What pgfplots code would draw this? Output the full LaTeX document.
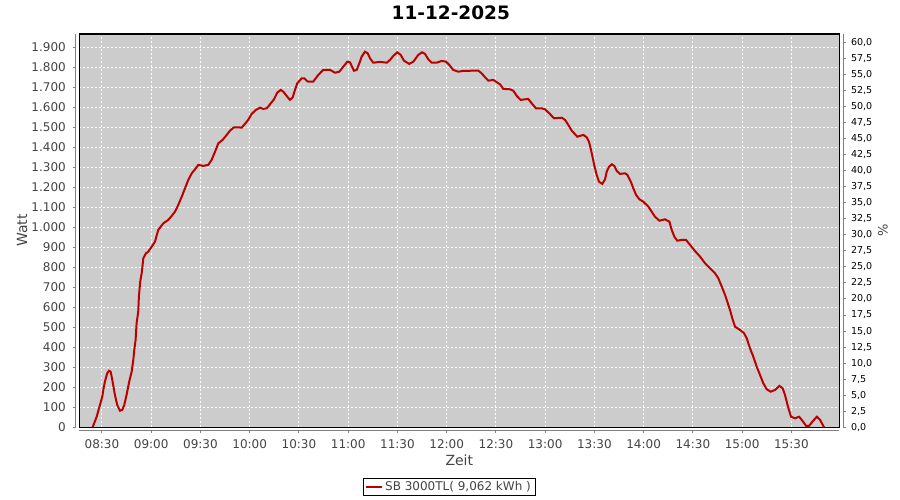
\documentclass[border=0pt]{standalone}
\usepackage{fontspec}
\setmainfont{DejaVu Sans}
\usepackage{pgfplots}
\usepackage{pgfplotstable}
\pgfplotsset{compat=1.18}
\definecolor{plotbg}{RGB}{204,204,204}
\definecolor{linered}{RGB}{187,0,0}
\definecolor{axgray}{RGB}{128,128,128}
\definecolor{lblgray}{RGB}{68,68,68}
\pgfplotstableread{
t w
504.3 0
506.8 53
508.8 112
510.2 153
510.8 187
511.8 228
513.2 270
514.3 283
515.3 278
516.5 228
517.9 162
519.3 112
521.0 83
522.4 87
523.6 112
525.0 162
526.6 228
528.1 278
529.1 337
529.7 387
530.5 437
531.1 520
532.1 578
532.5 653
533.3 728
534.2 770
535.2 845
536.8 870
538.2 878
539.9 898
542.3 928
544.3 987
547.4 1020
550.4 1037
552.5 1057
554.5 1078
556.5 1112
558.6 1153
560.6 1195
562.6 1237
564.7 1270
566.7 1290
568.7 1312
571.7 1307
574.8 1312
576.8 1337
578.9 1378
580.9 1420
583.5 1437
586.0 1462
588.0 1483
590.4 1500
593.0 1500
595.1 1498
597.1 1517
599.1 1537
601.2 1567
603.8 1587
606.3 1598
608.3 1592
610.4 1595
612.4 1615
614.8 1640
616.8 1673
618.9 1687
620.5 1678
622.5 1657
624.5 1637
626.2 1650
627.6 1687
629.0 1720
631.7 1745
633.3 1745
634.7 1733
635.7 1728
638.7 1728
641.8 1762
644.8 1787
648.9 1787
652.0 1773
654.6 1778
657.0 1803
659.5 1828
661.1 1825
663.5 1783
665.2 1787
666.8 1820
668.2 1853
670.2 1878
671.9 1870
673.3 1845
675.3 1823
679.4 1827
683.5 1823
685.5 1837
687.5 1857
689.9 1875
692.0 1862
694.0 1833
697.2 1817
699.7 1828
702.7 1862
705.0 1875
706.8 1867
708.8 1840
710.9 1823
713.9 1823
717.0 1832
719.6 1828
721.6 1812
724.0 1787
727.1 1778
730.1 1782
736.2 1783
739.3 1783
741.3 1770
743.4 1750
745.4 1733
748.4 1737
751.5 1720
752.5 1715
754.5 1692
758.6 1690
760.6 1683
762.7 1657
765.1 1637
769.7 1642
771.8 1620
774.4 1595
777.9 1595
779.9 1590
782.5 1570
785.4 1545
790.1 1548
792.1 1537
794.1 1512
796.2 1483
799.6 1453
803.3 1462
805.3 1450
806.7 1428
808.4 1370
810.0 1307
811.4 1262
812.8 1228
814.8 1217
816.5 1240
817.5 1278
818.9 1303
820.6 1315
822.1 1307
823.6 1282
825.6 1267
828.7 1270
830.1 1262
832.2 1228
833.7 1195
835.4 1162
837.4 1140
839.8 1128
842.9 1103
844.9 1078
846.9 1053
849.6 1033
853.0 1040
855.7 1028
857.1 987
858.7 953
860.5 933
863.2 937
865.8 937
868.3 912
870.7 887
874.4 853
877.4 820
880.4 795
883.5 770
885.5 745
887.6 703
889.6 662
890.6 637
892.6 587
894.3 537
895.7 503
898.7 487
901.2 470
902.8 445
904.8 395
906.8 353
908.9 303
910.9 262
912.9 220
915.0 190
917.4 178
920.1 187
922.7 207
924.7 195
926.1 162
928.2 95
929.8 53
932.2 45
934.7 53
936.7 33
939.0 7
940.8 7
942.8 28
945.5 53
947.5 37
949.9 0
}\powerdata
\begin{document}
\begin{tikzpicture}
\useasboundingbox (0,0) rectangle (900bp,500bp);
\pgfplotsset{
  common/.style={at={(79.3bp,72.7bp)}, anchor=south west, scale only axis,
    width=760bp, height=393.3bp, xmin=496.2, xmax=959.2,
    xtick={510,540,...,930}},
}
% main plot area
\begin{axis}[common, ymin=0, ymax=1966.5, ytick={0,100,...,1900},
  xticklabels={}, yticklabels={}, major tick length=0pt,
  axis background/.style={fill=plotbg},
  grid=major, grid style={white, dash pattern=on 2bp off 2bp, line width=1bp},
  axis line style={black, line width=1.2bp},
  legend style={at={(0.4865,-0.1518)}, anchor=center, draw=black, line width=0.8bp,
    font=\fontsize{12bp}{14bp}\selectfont, text=lblgray, inner xsep=2bp, inner ysep=1.5bp},
  legend image code/.code={\draw[#1] (0bp,0bp) -- (16bp,0bp);}]
\addplot[linered, line width=2bp] table[x=t, y=w] {\powerdata};
\addlegendentry{SB 3000TL( 9,062 kWh )}
\end{axis}
% left and bottom gray axes with labels
\begin{axis}[common, ymin=0, ymax=1966.5, ytick={0,100,...,1900},
  axis lines*=left, axis line style={axgray, -, line width=1bp},
  x axis line style={yshift=-3.7bp}, y axis line style={xshift=-3.6bp},
  tick style={axgray, line width=1bp}, xtick style={yshift=-3.7bp}, ytick style={xshift=-3.6bp},
  tick align=outside, major tick length=2.5bp,
  xticklabels={08:30,09:00,09:30,10:00,10:30,11:00,11:30,12:00,12:30,13:00,13:30,14:00,14:30,15:00,15:30},
  tick label style={font=\fontsize{12bp}{14bp}\selectfont, text=lblgray},
  yticklabel style={anchor=east, inner sep=0pt, xshift=-10.8bp},
  xticklabel style={anchor=north, inner sep=0pt, yshift=-9.4bp},
  /pgf/number format/.cd, use comma, 1000 sep={.}, assume math mode=true]
\end{axis}
% right percentage axis
\begin{axis}[common, ymin=0, ymax=61.3, ytick={0,2.5,...,60},
  axis y line*=right, hide x axis,
  y axis line style={axgray, -, line width=1bp, xshift=4bp},
  ytick style={axgray, line width=1bp, xshift=4bp},
  tick align=outside, major tick length=2.5bp,
  yticklabel style={anchor=west, inner sep=0pt, xshift=9bp, font=\fontsize{9.5bp}{11bp}\selectfont, text=black},
  yticklabel={\pgfmathprintnumber[fixed, fixed zerofill, precision=1, use comma, assume math mode=true]{\tick}}]
\end{axis}
\node[font=\fontsize{18.5bp}{22bp}\selectfont\bfseries] at (450.8bp,487.3bp) {11-12-2025};
\node[font=\fontsize{14bp}{16bp}\selectfont, text=lblgray, rotate=90] at (22bp,269.4bp) {Watt};
\node[font=\fontsize{14bp}{16bp}\selectfont, text=lblgray] at (459.3bp,40bp) {Zeit};
\node[font=\fontsize{13bp}{16bp}\selectfont, text=lblgray, rotate=90] at (883bp,269.4bp) {\%};
\end{tikzpicture}
\end{document}
